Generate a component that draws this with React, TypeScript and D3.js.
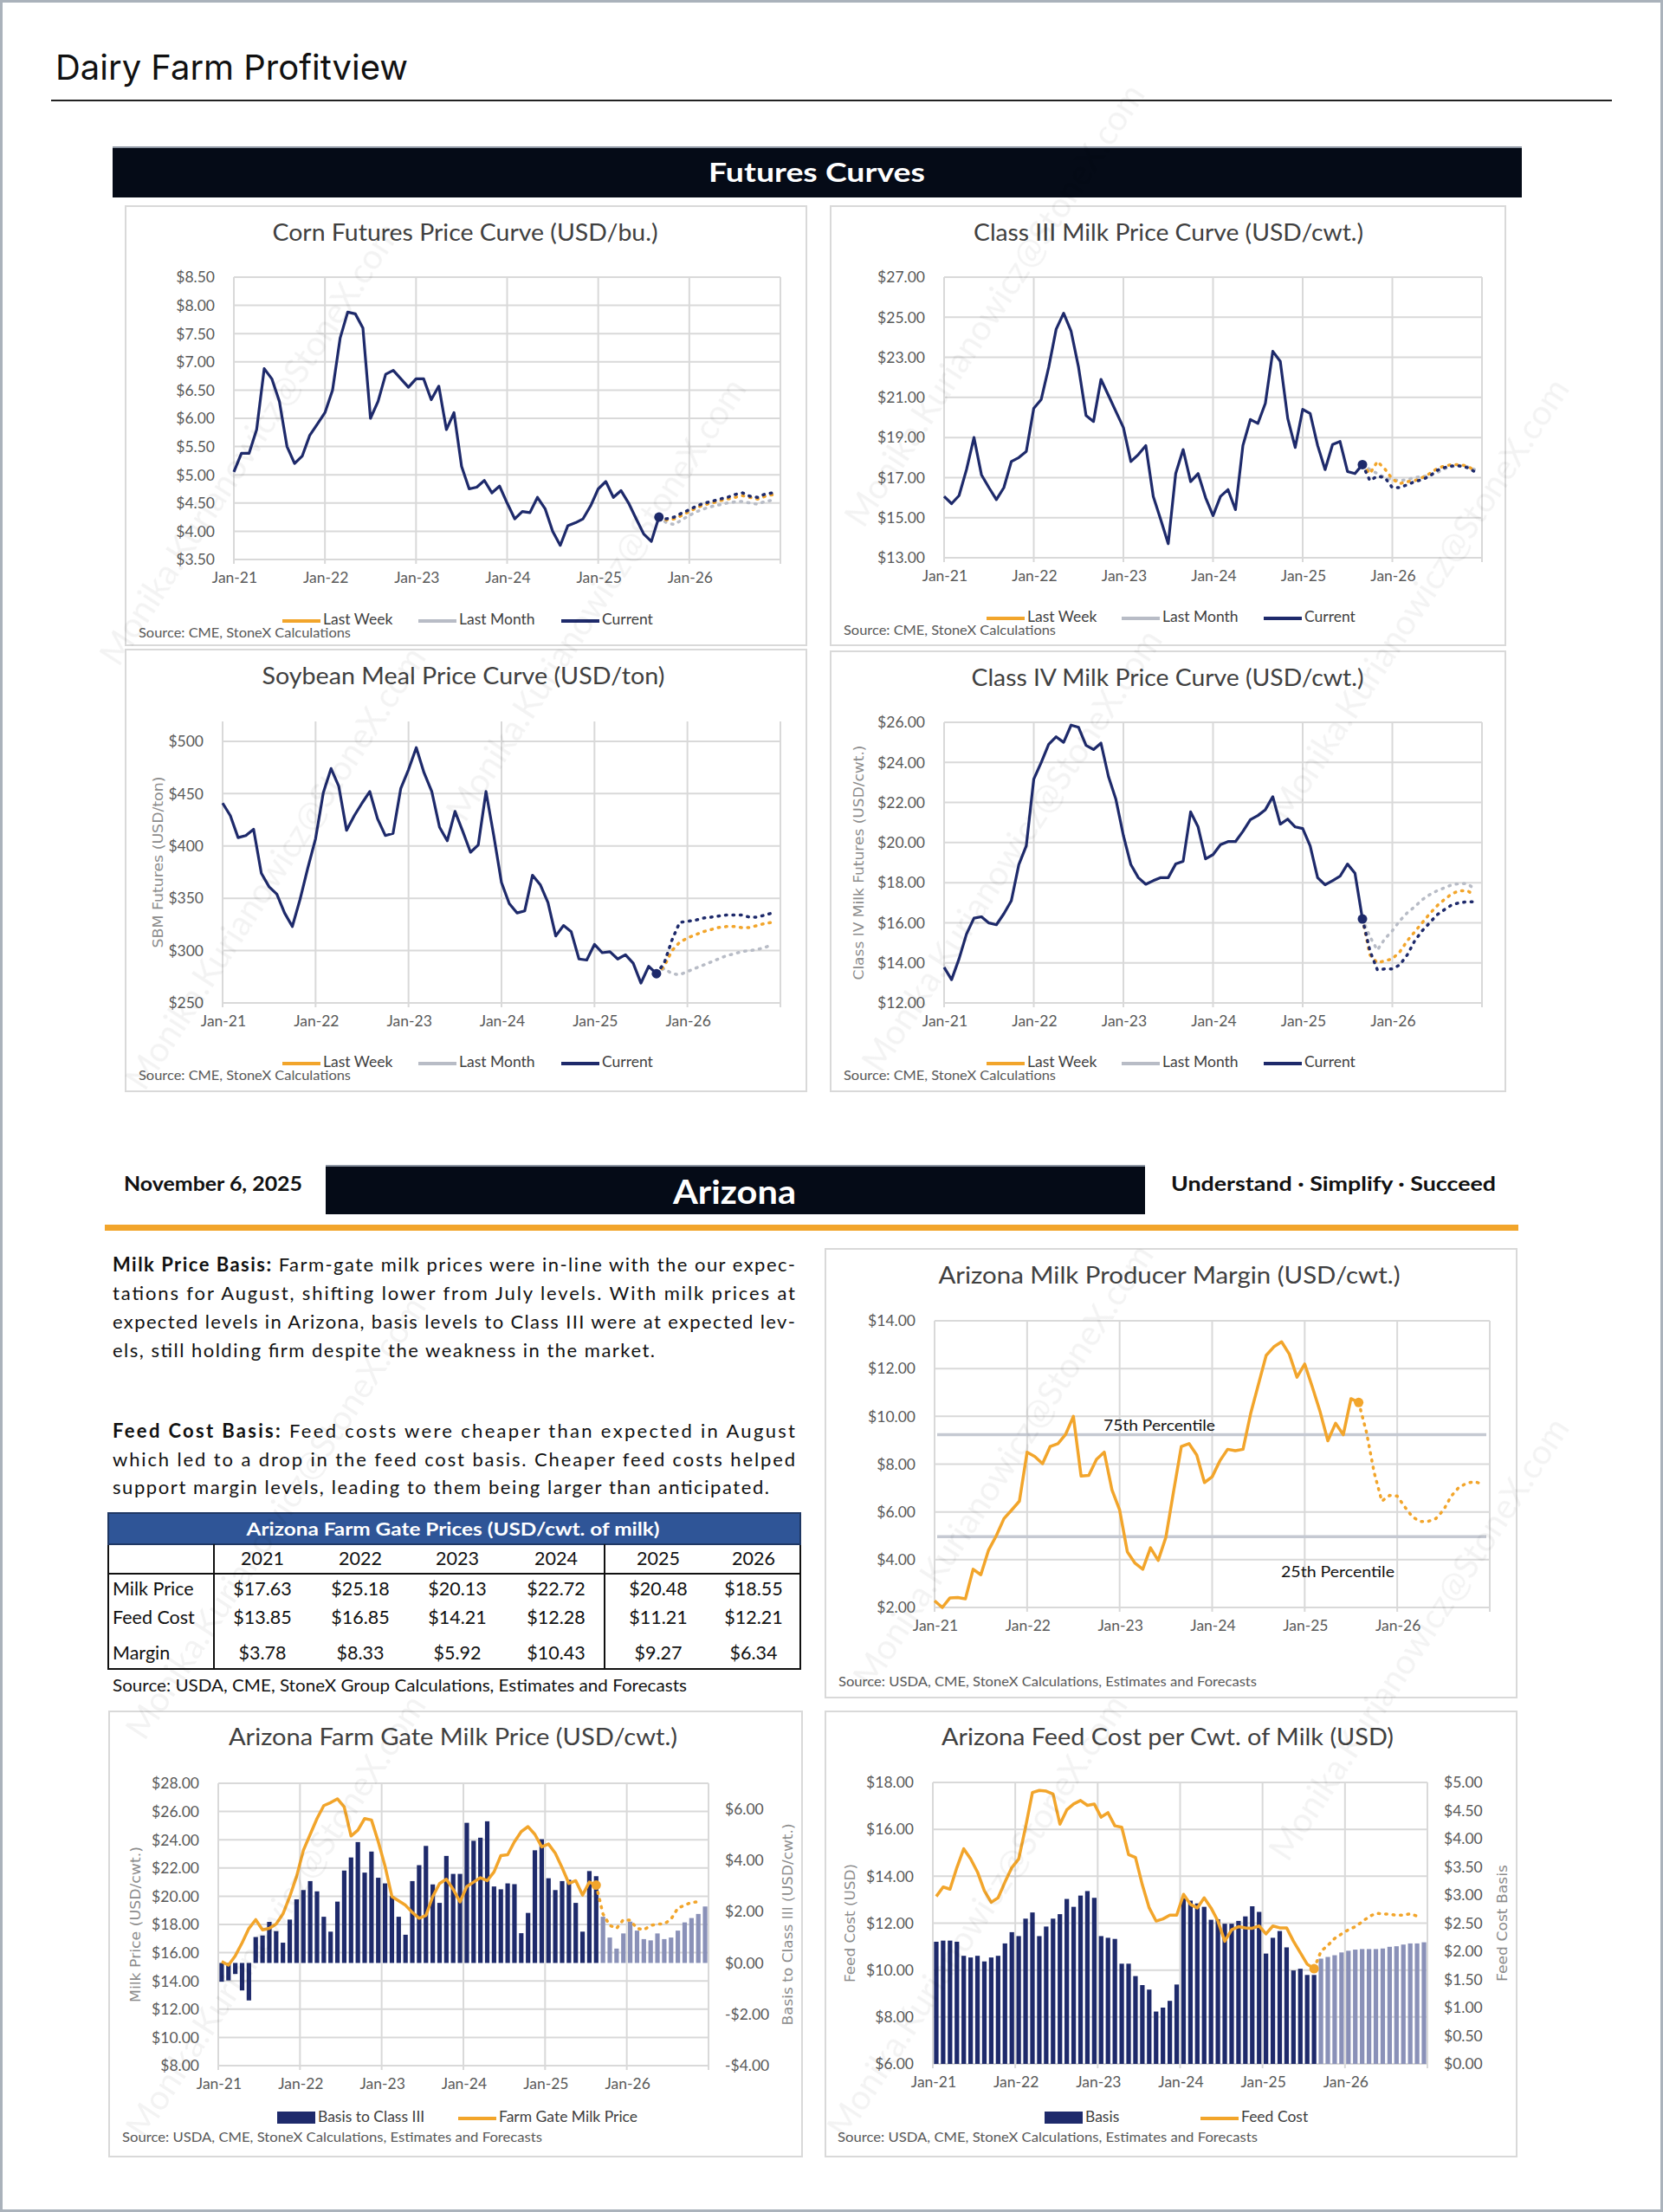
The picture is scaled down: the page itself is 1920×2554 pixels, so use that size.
import React from 'react';
import * as d3 from 'd3';

const FONT = "Lato, 'Open Sans', sans-serif";
const VERD = "'DejaVu Sans', Verdana, sans-serif";

const NAVY = '#1e2a6b';
const ORANGE = '#f2a52b';
const GRAY = '#b8bcc6';
const GRID = '#d9d9d9';
const TICK = '#595959';
const BAR_FWD = '#8a91b8';

const yearTicks = ['Jan-21', 'Jan-22', 'Jan-23', 'Jan-24', 'Jan-25', 'Jan-26'];
const legendNames = ['Last Week', 'Last Month', 'Current'];

// corn (USD/bu.), monthly from Jan-21
const cornCurrent = [5.05, 5.38, 5.38, 5.8, 6.88, 6.7, 6.3, 5.5, 5.2, 5.33, 5.7, 5.9, 6.1, 6.5, 7.42, 7.88, 7.85, 7.6, 6.0, 6.3, 6.78, 6.85, 6.7, 6.55, 6.7, 6.7, 6.33, 6.57, 5.8, 6.1, 5.15, 4.75, 4.78, 4.9, 4.68, 4.8, 4.5, 4.22, 4.35, 4.33, 4.6, 4.4, 4.0, 3.75, 4.1, 4.15, 4.22, 4.45, 4.75, 4.88, 4.6, 4.72, 4.5, 4.22, 3.95, 3.82, 4.25];
const cornCurrentFwd = [4.22, 4.25, 4.32, 4.38, 4.45, 4.5, 4.53, 4.57, 4.6, 4.65, 4.68, 4.62, 4.6, 4.66, 4.68];
const cornLastWeek = [4.2, 4.22, 4.28, 4.35, 4.42, 4.47, 4.5, 4.54, 4.57, 4.6, 4.63, 4.6, 4.57, 4.62, 4.65];
const cornLastMonth = [4.15, 4.12, 4.2, 4.28, 4.35, 4.4, 4.44, 4.47, 4.5, 4.52, 4.53, 4.5, 4.48, 4.53, 4.55];

// class III milk (USD/cwt.)
const class3Current = [16.06, 15.7, 16.1, 17.4, 19.0, 17.14, 16.5, 15.9, 16.5, 17.8, 18.0, 18.3, 20.45, 20.9, 22.5, 24.4, 25.2, 24.3, 22.5, 20.1, 19.8, 21.9, 21.1, 20.3, 19.5, 17.8, 18.15, 18.6, 16.06, 14.9, 13.7, 17.2, 18.4, 16.8, 17.2, 16.0, 15.1, 16.06, 16.4, 15.4, 18.6, 19.9, 19.7, 20.7, 23.3, 22.8, 19.95, 18.5, 20.4, 20.2, 18.6, 17.4, 18.65, 18.8, 17.3, 17.2, 17.65];
const class3CurrentFwd = [16.85, 17.07, 17.0, 16.5, 16.5, 16.64, 16.8, 16.9, 17.07, 17.36, 17.5, 17.58, 17.58, 17.5, 17.3];
const class3LastWeek = [17.2, 17.8, 17.43, 16.93, 16.7, 16.8, 16.85, 17.0, 17.2, 17.45, 17.58, 17.65, 17.65, 17.58, 17.36];
const class3LastMonth = [17.4, 17.2, 17.0, 16.9, 16.85, 16.9, 17.0, 17.05, 17.1, 17.25, 17.45, 17.55, 17.6, 17.55, 17.4];

// soybean meal (USD/ton)
const sbmCurrent = [441, 429, 408, 410, 416, 374, 361, 354, 336, 323, 349, 379, 407, 451, 474, 457, 415, 429, 441, 452, 426, 410, 412, 455, 473, 494, 470, 452, 418, 405, 433, 414, 394, 401, 452, 410, 365, 345, 336, 338, 372, 363, 346, 314, 324, 318, 292, 291, 306, 298, 299, 292, 296, 288, 269, 285, 278];
const sbmCurrentFwd = [288, 310, 327, 328, 329, 331, 332, 333, 334, 334, 334, 332, 332, 334, 336];
const sbmLastWeek = [285, 300, 308, 312, 315, 318, 320, 322, 323, 323, 322, 322, 324, 326, 327];
const sbmLastMonth = [283, 278, 277, 280, 283, 286, 289, 292, 295, 297, 299, 300, 301, 303, 306];

// class IV milk (USD/cwt.)
const class4Current = [13.78, 13.16, 14.2, 15.44, 16.23, 16.3, 15.99, 15.9, 16.45, 17.1, 18.9, 19.84, 23.16, 24.0, 24.9, 25.28, 25.0, 25.86, 25.75, 24.85, 24.64, 24.96, 23.3, 22.15, 20.35, 18.9, 18.25, 17.92, 18.1, 18.25, 18.25, 18.93, 19.07, 21.53, 20.78, 19.19, 19.4, 19.9, 20.05, 20.05, 20.56, 21.14, 21.35, 21.64, 22.29, 20.92, 21.17, 20.78, 20.7, 19.84, 18.25, 17.89, 18.1, 18.32, 18.93, 18.47, 16.19];
const class4CurrentFwd = [14.6, 13.65, 13.7, 13.7, 13.9, 14.4, 15.1, 15.6, 16.0, 16.4, 16.66, 16.9, 17.0, 17.05, 17.05];
const class4LastWeek = [14.4, 14.0, 14.1, 14.2, 14.55, 15.1, 15.55, 16.0, 16.45, 16.85, 17.17, 17.45, 17.6, 17.6, 17.4];
const class4LastMonth = [15.3, 14.64, 15.2, 15.6, 16.1, 16.5, 16.8, 17.15, 17.4, 17.6, 17.75, 17.9, 17.95, 17.95, 17.7];

// Arizona producer margin (USD/cwt.)
const marginHist = [2.28, 2.0, 2.4, 2.42, 2.36, 3.6, 3.37, 4.4, 5.0, 5.72, 6.08, 6.45, 8.5, 8.32, 8.02, 8.74, 8.86, 9.25, 10.0, 7.5, 7.53, 8.2, 8.5, 6.93, 6.08, 4.33, 3.85, 3.6, 4.5, 3.97, 4.94, 6.87, 8.74, 8.86, 8.38, 7.23, 7.47, 8.14, 8.62, 8.56, 8.62, 10.13, 11.34, 12.55, 12.91, 13.12, 12.61, 11.64, 12.19, 11.22, 10.19, 8.98, 9.71, 9.23, 10.74, 10.58];
const marginFwd = [9.35, 7.66, 6.45, 6.69, 6.66, 6.2, 5.78, 5.6, 5.6, 5.72, 6.08, 6.66, 7.03, 7.2, 7.27, 7.17];
const percentile75 = 9.23;
const percentile25 = 4.96;

// Arizona farm gate milk price and basis to class III
const milkPriceHist = [15.37, 15.12, 15.78, 16.7, 17.72, 18.34, 17.62, 17.72, 18.03, 18.75, 19.98, 21.4, 23.25, 24.38, 25.5, 26.42, 26.63, 26.9, 26.32, 24.27, 24.68, 25.5, 25.4, 23.86, 22.12, 19.98, 19.67, 19.36, 18.85, 18.44, 18.64, 19.98, 20.9, 21.2, 20.49, 19.6, 20.69, 21.0, 21.31, 21.1, 21.72, 22.88, 22.94, 23.86, 24.58, 24.93, 24.38, 23.5, 23.7, 23.05, 22.02, 20.9, 21.1, 20.08, 21.0, 20.79];
const milkPriceFwd = [18.75, 17.93, 17.72, 18.34, 18.3, 17.72, 17.62, 17.93, 18.03, 18.03, 18.38, 19.16, 19.36, 19.57, 19.6];
const milkBasisHist = [-0.73, -0.68, -0.43, -1.07, -1.46, 1.01, 1.07, 1.6, 1.24, 0.79, 1.69, 2.48, 2.84, 3.19, 2.79, 1.8, 1.22, 2.39, 3.6, 4.11, 4.71, 3.52, 4.34, 3.32, 3.1, 2.61, 1.8, 1.1, 3.19, 3.81, 4.56, 3.06, 2.34, 4.17, 3.47, 3.47, 5.46, 4.76, 4.88, 5.52, 2.98, 2.87, 3.1, 3.07, 1.16, 1.95, 4.39, 4.82, 3.3, 2.84, 3.19, 3.24, 2.34, 1.22, 3.58, 3.38];
const milkBasisFwd = [1.8, 0.99, 0.56, 1.15, 1.61, 1.26, 0.93, 0.88, 1.15, 0.93, 0.99, 1.26, 1.58, 1.75, 1.91, 2.2];

// Arizona feed cost per cwt and feed cost basis
const feedCostHist = [13.14, 13.54, 13.45, 14.37, 15.17, 14.74, 14.18, 13.38, 12.89, 13.08, 13.75, 14.37, 14.74, 16.09, 17.57, 17.66, 17.63, 17.51, 16.22, 16.83, 17.08, 17.23, 17.02, 17.08, 16.52, 16.71, 16.15, 16.09, 14.92, 14.8, 13.63, 12.65, 12.09, 12.18, 12.34, 12.34, 13.23, 12.8, 12.65, 13.08, 12.65, 12.09, 11.23, 11.72, 11.85, 11.8, 11.78, 11.88, 11.54, 11.88, 11.8, 11.8, 11.23, 10.74, 10.25, 10.06];
const feedCostFwd = [10.8, 11.05, 11.35, 11.54, 11.72, 11.85, 12.06, 12.28, 12.42, 12.4, 12.38, 12.34, 12.34, 12.4, 12.3];
const feedBasisHist = [2.17, 2.19, 2.19, 2.17, 1.92, 1.89, 1.92, 1.82, 1.89, 1.92, 2.14, 2.34, 2.27, 2.58, 2.69, 2.27, 2.44, 2.58, 2.66, 2.93, 2.79, 2.99, 3.07, 2.95, 2.27, 2.24, 2.22, 1.78, 1.78, 1.56, 1.4, 1.32, 0.93, 1.0, 1.12, 1.41, 2.94, 2.9, 2.85, 2.79, 2.56, 2.57, 2.49, 2.49, 2.54, 2.62, 2.8, 2.7, 1.96, 2.24, 2.36, 2.07, 1.66, 1.69, 1.58, 1.58];
const feedBasisFwd = [1.87, 1.9, 1.93, 1.98, 2.01, 2.03, 2.04, 2.04, 2.04, 2.05, 2.08, 2.09, 2.12, 2.14, 2.14, 2.16];

// table
const tableYears = ['2021', '2022', '2023', '2024', '2025', '2026'];
const tableRowLabels = ['Milk Price', 'Feed Cost', 'Margin'];
const milkPriceRow = ['$17.63', '$25.18', '$20.13', '$22.72', '$20.48', '$18.55'];
const feedCostRow = ['$13.85', '$16.85', '$14.21', '$12.28', '$11.21', '$12.21'];
const marginRow = ['$3.78', '$8.33', '$5.92', '$10.43', '$9.27', '$6.34'];

const fmt2 = (v: number) => (v < 0 ? '-$' : '$') + Math.abs(v).toFixed(2);
const fmt0 = (v: number) => '$' + v.toFixed(0);

type Box = { x: number; y: number; w: number; h: number };
type Plot = { l: number; r: number; t: number; b: number };

const Panel = ({ box }: { box: Box }) => (
  <rect x={box.x} y={box.y} width={box.w} height={box.h} fill="#fff" stroke={GRID} strokeWidth={2} />
);

const Title = ({ x, y, len, text }: { x: number; y: number; len: number; text: string }) => (
  <text x={x} y={y} textAnchor="middle" fontFamily={FONT} fontSize={26} fill="#404040" textLength={len} lengthAdjust="spacingAndGlyphs">
    {text}
  </text>
);

const Source = ({ x, y, len, text }: { x: number; y: number; len: number; text: string }) => (
  <text x={x} y={y} fontFamily={FONT} fontSize={15} fill={TICK} textLength={len} lengthAdjust="spacingAndGlyphs">
    {text}
  </text>
);

const AxisTitle = ({ x, cy, len, text }: { x: number; cy: number; len: number; text: string }) => (
  <text transform={`translate(${x},${cy}) rotate(-90)`} textAnchor="middle" fontFamily={VERD} fontSize={16} fill="#8c8c8c" textLength={len} lengthAdjust="spacingAndGlyphs">
    {text}
  </text>
);

const YearAxis = ({ plot }: { plot: Plot }) => {
  const xm = d3.scaleLinear().domain([0, 72]).range([plot.l, plot.r]);
  return (
    <g>
      {d3.range(0, 73, 12).map(m => (
        <line key={m} x1={xm(m)} x2={xm(m)} y1={plot.t} y2={plot.b + 5} stroke={GRID} strokeWidth={2} />
      ))}
      {yearTicks.map((lbl, i) => (
        <text key={lbl} x={xm(i * 12) + 1} y={plot.b + 27} textAnchor="middle" fontFamily={FONT} fontSize={17.5} fill={TICK}>
          {lbl}
        </text>
      ))}
    </g>
  );
};

type FuturesProps = {
  title: string;
  titleX: number;
  titleY: number;
  titleLen: number;
  box: Box;
  plot: Plot;
  yDomain: [number, number];
  yTicks: number[];
  fmt: (v: number) => string;
  current: number[];
  currentFwd: number[];
  lastWeek: number[];
  lastMonth: number[];
  yTitle?: string;
  yTitleX?: number;
  yTitleLen?: number;
  legendY: number;
  legendX: number[];
  sourceX: number;
  sourceY: number;
};

function FuturesChart(p: FuturesProps) {
  const { l, r, t, b } = p.plot;
  const x = d3.scaleLinear().domain([0, 72]).range([l, r]);
  const y = d3.scaleLinear().domain(p.yDomain).range([b, t]);
  const n = p.current.length;
  const last = p.current[n - 1];
  const hist = d3.line<number>().x((_, i) => x(i)).y(d => y(d));
  const fwd = d3.line<number>().x((_, i) => x(i + n - 1)).y(d => y(d));
  const dotted = { fill: 'none', strokeWidth: 3.5, strokeLinecap: 'round' as const, strokeDasharray: '1.5 7' };
  const legendColors = [ORANGE, GRAY, NAVY];
  return (
    <g>
      <Panel box={p.box} />
      <Title x={p.titleX} y={p.titleY} len={p.titleLen} text={p.title} />
      {p.yTicks.map(v => (
        <line key={v} x1={l} x2={r} y1={y(v)} y2={y(v)} stroke={GRID} strokeWidth={2} />
      ))}
      <YearAxis plot={p.plot} />
      {p.yTicks.map(v => (
        <text key={v} x={l - 22} y={y(v)} dy="0.36em" textAnchor="end" fontFamily={FONT} fontSize={17.5} fill={TICK}>
          {p.fmt(v)}
        </text>
      ))}
      {p.yTitle && <AxisTitle x={p.yTitleX!} cy={(t + b) / 2} len={p.yTitleLen!} text={p.yTitle} />}
      <path d={fwd([last, ...p.lastMonth]) || ''} stroke={GRAY} {...dotted} />
      <path d={fwd([last, ...p.lastWeek]) || ''} stroke={ORANGE} {...dotted} />
      <path d={fwd([last, ...p.currentFwd]) || ''} stroke={NAVY} {...dotted} />
      <path d={hist(p.current) || ''} fill="none" stroke={NAVY} strokeWidth={3.2} strokeLinejoin="round" />
      <circle cx={x(n - 1)} cy={y(last)} r={5.5} fill={NAVY} />
      {legendNames.map((name, i) => (
        <g key={name}>
          <line x1={p.legendX[i]} x2={p.legendX[i] + 44} y1={p.legendY - 4} y2={p.legendY - 4} stroke={legendColors[i]} strokeWidth={4} />
          <text x={p.legendX[i] + 47} y={p.legendY} fontFamily={FONT} fontSize={17.5} fill="#404040">
            {name}
          </text>
        </g>
      ))}
      <Source x={p.sourceX} y={p.sourceY} len={245} text="Source: CME, StoneX Calculations" />
    </g>
  );
}

function MarginChart() {
  const box = { x: 953, y: 1442, w: 798, h: 518 };
  const plot = { l: 1079, r: 1720, t: 1525, b: 1856 };
  const x = d3.scaleLinear().domain([0, 72]).range([plot.l, plot.r]);
  const y = d3.scaleLinear().domain([2, 14]).range([plot.b, plot.t]);
  const ticks = d3.range(2, 14.01, 2);
  const n = marginHist.length;
  const last = marginHist[n - 1];
  const hist = d3.line<number>().x((_, i) => x(i)).y(d => y(d));
  const fwd = d3.line<number>().x((_, i) => x(i + n - 1)).y(d => y(d));
  return (
    <g>
      <Panel box={box} />
      <Title x={1350} y={1482} len={533} text="Arizona Milk Producer Margin (USD/cwt.)" />
      {ticks.map(v => (
        <line key={v} x1={plot.l} x2={plot.r} y1={y(v)} y2={y(v)} stroke={GRID} strokeWidth={2} />
      ))}
      <YearAxis plot={plot} />
      {ticks.map(v => (
        <text key={v} x={plot.l - 22} y={y(v)} dy="0.36em" textAnchor="end" fontFamily={FONT} fontSize={17.5} fill={TICK}>
          {fmt2(v)}
        </text>
      ))}
      {[percentile75, percentile25].map(v => (
        <line key={v} x1={plot.l + 3} x2={plot.r - 4} y1={y(v)} y2={y(v)} stroke="#c5c9d2" strokeWidth={3.5} />
      ))}
      <text x={1274} y={1652} fontFamily={FONT} fontSize={17} fill="#111" textLength={129} lengthAdjust="spacingAndGlyphs">75th Percentile</text>
      <text x={1479} y={1821} fontFamily={FONT} fontSize={17} fill="#111" textLength={131} lengthAdjust="spacingAndGlyphs">25th Percentile</text>
      <path d={fwd([last, ...marginFwd]) || ''} fill="none" stroke={ORANGE} strokeWidth={3.5} strokeLinecap="round" strokeDasharray="1.5 7" />
      <path d={hist(marginHist) || ''} fill="none" stroke={ORANGE} strokeWidth={3.5} strokeLinejoin="round" />
      <circle cx={x(n - 1)} cy={y(last)} r={5.5} fill={ORANGE} />
      <Source x={968} y={1947} len={483} text="Source: USDA, CME, StoneX Calculations, Estimates and Forecasts" />
    </g>
  );
}

type ComboProps = {
  title: string;
  titleX: number;
  titleLen: number;
  box: Box;
  plot: Plot;
  yL: [number, number];
  yLTicks: number[];
  yR: [number, number];
  yRTicks: number[];
  barsHist: number[];
  barsFwd: number[];
  lineHist: number[];
  lineFwd: number[];
  yLTitle: string;
  yLTitleX: number;
  yLTitleLen: number;
  yRTitle: string;
  yRTitleX: number;
  yRTitleLen: number;
  barLabel: string;
  lineLabel: string;
  boxX: number;
  lineX: number;
  sourceX: number;
};

function ComboChart(p: ComboProps) {
  const { l, r, t, b } = p.plot;
  const bars = [...p.barsHist, ...p.barsFwd];
  const band = d3.scaleBand<number>().domain(d3.range(bars.length)).range([l, r]).paddingInner(0.34).paddingOuter(0.17);
  const cx = (i: number) => (band(i) || 0) + band.bandwidth() / 2;
  const yl = d3.scaleLinear().domain(p.yL).range([b, t]);
  const yr = d3.scaleLinear().domain(p.yR).range([b, t]);
  const n = p.lineHist.length;
  const last = p.lineHist[n - 1];
  const hist = d3.line<number>().x((_, i) => cx(i)).y(d => yl(d));
  const fwd = d3.line<number>().x((_, i) => cx(i + n - 1)).y(d => yl(d));
  const legendY = 2450;
  return (
    <g>
      <Panel box={p.box} />
      <Title x={p.titleX} y={2015} len={p.titleLen} text={p.title} />
      {p.yLTicks.map(v => (
        <line key={v} x1={l} x2={r} y1={yl(v)} y2={yl(v)} stroke={GRID} strokeWidth={2} />
      ))}
      <YearAxis plot={p.plot} />
      {p.yLTicks.map(v => (
        <text key={v} x={l - 22} y={yl(v)} dy="0.36em" textAnchor="end" fontFamily={FONT} fontSize={17.5} fill={TICK}>
          {fmt2(v)}
        </text>
      ))}
      {p.yRTicks.map(v => (
        <text key={v} x={r + 19} y={yr(v)} dy="0.36em" textAnchor="start" fontFamily={FONT} fontSize={17.5} fill={TICK}>
          {fmt2(v)}
        </text>
      ))}
      <AxisTitle x={p.yLTitleX} cy={(t + b) / 2} len={p.yLTitleLen} text={p.yLTitle} />
      <AxisTitle x={p.yRTitleX} cy={(t + b) / 2} len={p.yRTitleLen} text={p.yRTitle} />
      {bars.map((v, i) => (
        <rect
          key={i}
          x={band(i)}
          width={band.bandwidth()}
          y={Math.min(yr(0), yr(v))}
          height={Math.abs(yr(v) - yr(0))}
          fill={i < p.barsHist.length ? NAVY : BAR_FWD}
        />
      ))}
      <path d={fwd([last, ...p.lineFwd]) || ''} fill="none" stroke={ORANGE} strokeWidth={3.5} strokeLinecap="round" strokeDasharray="1.5 7" />
      <path d={hist(p.lineHist) || ''} fill="none" stroke={ORANGE} strokeWidth={3.5} strokeLinejoin="round" />
      <circle cx={cx(n - 1)} cy={yl(last)} r={5.5} fill={ORANGE} />
      <rect x={p.boxX} y={legendY - 12} width={44} height={14} fill={NAVY} />
      <text x={p.boxX + 47} y={legendY} fontFamily={FONT} fontSize={17.5} fill="#404040">{p.barLabel}</text>
      <line x1={p.lineX} x2={p.lineX + 44} y1={legendY - 4} y2={legendY - 4} stroke={ORANGE} strokeWidth={4} />
      <text x={p.lineX + 47} y={legendY} fontFamily={FONT} fontSize={17.5} fill="#404040">{p.lineLabel}</text>
      <Source x={p.sourceX} y={2473} len={485} text="Source: USDA, CME, StoneX Calculations, Estimates and Forecasts" />
    </g>
  );
}

function FarmTable() {
  const cols = [303, 416, 528, 642, 760, 870];
  const rows = [milkPriceRow, feedCostRow, marginRow];
  const rowY = [1842, 1875, 1916];
  return (
    <g fontFamily={FONT}>
      <rect x={125} y={1747} width={799} height={180} fill="#fff" stroke="#111" strokeWidth={2} />
      <rect x={125} y={1747} width={799} height={36} fill="#2f5597" stroke="#1f3864" strokeWidth={2} />
      <text x={523} y={1773} textAnchor="middle" fontWeight={700} fontSize={20} fill="#fff" textLength={477} lengthAdjust="spacingAndGlyphs">
        Arizona Farm Gate Prices (USD/cwt. of milk)
      </text>
      <line x1={125} x2={924} y1={1817} y2={1817} stroke="#111" strokeWidth={2} />
      <line x1={247} x2={247} y1={1783} y2={1927} stroke="#111" strokeWidth={2} />
      <line x1={698} x2={698} y1={1783} y2={1927} stroke="#111" strokeWidth={2} />
      {tableYears.map((yr, i) => (
        <text key={yr} x={cols[i]} y={1807} textAnchor="middle" fontSize={21.5} fill="#111">{yr}</text>
      ))}
      {tableRowLabels.map((lbl, j) => (
        <text key={lbl} x={130} y={rowY[j]} fontSize={21.5} fill="#111">{lbl}</text>
      ))}
      {rows.map((row, j) =>
        row.map((v, i) => (
          <text key={`${j}-${i}`} x={cols[i]} y={rowY[j]} textAnchor="middle" fontSize={21.5} fill="#111">{v}</text>
        ))
      )}
      <text x={130} y={1953} fontSize={19} fill="#111" textLength={663} lengthAdjust="spacingAndGlyphs">
        Source: USDA, CME, StoneX Group Calculations, Estimates and Forecasts
      </text>
    </g>
  );
}

const para1 = [
  ['Milk Price Basis:', ' Farm-gate milk prices were in-line with the our expec-'],
  ['', 'tations for August, shifting lower from July levels. With milk prices at'],
  ['', 'expected levels in Arizona, basis levels to Class III were at expected lev-'],
  ['', 'els, still holding firm despite the weakness in the market.'],
];
const para2 = [
  ['Feed Cost Basis:', ' Feed costs were cheaper than expected in August'],
  ['', 'which led to a drop in the feed cost basis. Cheaper feed costs helped'],
  ['', 'support margin levels, leading to them being larger than anticipated.'],
];

function Commentary() {
  const lines = [
    ...para1.map((l, i) => ({ parts: l, y: 1468 + i * 33, len: i === 3 ? 626 : 788 })),
    ...para2.map((l, i) => ({ parts: l, y: 1660 + i * 32.5, len: i === 2 ? 758 : 788 })),
  ];
  return (
    <g fontFamily={FONT} fontSize={22} fill="#111">
      {lines.map((ln, i) => (
        <text key={i} x={130} y={ln.y} textLength={ln.len} lengthAdjust="spacing">
          {ln.parts[0] && <tspan fontWeight={700}>{ln.parts[0]}</tspan>}
          {ln.parts[1]}
        </text>
      ))}
    </g>
  );
}

const watermarkSpots = [
  [300, 520], [330, 1010], [1160, 360], [1180, 990], [700, 700],
  [330, 1760], [1170, 1700], [330, 2220], [1140, 2220], [1650, 700], [1650, 1900],
];

export default function App() {
  const tick = (a: number, b: number, s: number) => d3.range(a, b + s / 2, s);
  return (
    <svg width={1920} height={2554} style={{ position: 'absolute', left: 0, top: 0, background: '#fff' }}>
      <rect x={1.5} y={1.5} width={1917} height={2551} fill="#fff" stroke="#aab2bb" strokeWidth={3} />
      <text x={64} y={92} fontFamily="Inter, 'Liberation Sans', sans-serif" fontSize={40} fill="#111" textLength={407} lengthAdjust="spacingAndGlyphs">
        Dairy Farm Profitview
      </text>
      <line x1={59} x2={1861} y1={116} y2={116} stroke="#222" strokeWidth={2} />

      <rect x={130} y={169} width={1627} height={59} fill="#050b17" />
      <line x1={130} x2={1757} y1={170} y2={170} stroke="#8d96a3" strokeWidth={2} />
      <text x={943} y={210} textAnchor="middle" fontFamily={FONT} fontWeight={700} fontSize={30} fill="#fff" textLength={250} lengthAdjust="spacingAndGlyphs">
        Futures Curves
      </text>

      <FuturesChart
        title="Corn Futures Price Curve (USD/bu.)" titleX={537} titleY={278} titleLen={445}
        box={{ x: 145, y: 238, w: 786, h: 507 }} plot={{ l: 270, r: 901, t: 320, b: 646 }}
        yDomain={[3.5, 8.5]} yTicks={tick(3.5, 8.5, 0.5)} fmt={fmt2}
        current={cornCurrent} currentFwd={cornCurrentFwd} lastWeek={cornLastWeek} lastMonth={cornLastMonth}
        legendY={721} legendX={[326, 483, 648]} sourceX={160} sourceY={736}
      />
      <FuturesChart
        title="Class III Milk Price Curve (USD/cwt.)" titleX={1349} titleY={278} titleLen={450}
        box={{ x: 959, y: 238, w: 779, h: 507 }} plot={{ l: 1090, r: 1711, t: 320, b: 644 }}
        yDomain={[13, 27]} yTicks={tick(13, 27, 2)} fmt={fmt2}
        current={class3Current} currentFwd={class3CurrentFwd} lastWeek={class3LastWeek} lastMonth={class3LastMonth}
        legendY={718} legendX={[1139, 1295, 1459]} sourceX={974} sourceY={733}
      />
      <FuturesChart
        title="Soybean Meal Price Curve (USD/ton)" titleX={535} titleY={790} titleLen={465}
        box={{ x: 145, y: 750, w: 786, h: 510 }} plot={{ l: 257, r: 901, t: 833, b: 1158 }}
        yDomain={[250, 519]} yTicks={tick(250, 500, 50)} fmt={fmt0}
        current={sbmCurrent} currentFwd={sbmCurrentFwd} lastWeek={sbmLastWeek} lastMonth={sbmLastMonth}
        yTitle="SBM Futures (USD/ton)" yTitleX={188} yTitleLen={198}
        legendY={1232} legendX={[326, 483, 648]} sourceX={160} sourceY={1247}
      />
      <FuturesChart
        title="Class IV Milk Price Curve (USD/cwt.)" titleX={1348} titleY={792} titleLen={453}
        box={{ x: 959, y: 752, w: 779, h: 508 }} plot={{ l: 1090, r: 1711, t: 834, b: 1158 }}
        yDomain={[12, 26]} yTicks={tick(12, 26, 2)} fmt={fmt2}
        current={class4Current} currentFwd={class4CurrentFwd} lastWeek={class4LastWeek} lastMonth={class4LastMonth}
        yTitle="Class IV Milk Futures (USD/cwt.)" yTitleX={997} yTitleLen={271}
        legendY={1232} legendX={[1139, 1295, 1459]} sourceX={974} sourceY={1247}
      />

      <text x={143} y={1375} fontFamily={FONT} fontWeight={700} fontSize={22} fill="#111" textLength={206} lengthAdjust="spacingAndGlyphs">
        November 6, 2025
      </text>
      <rect x={376} y={1345} width={946} height={57} fill="#050b17" />
      <line x1={376} x2={1322} y1={1346} y2={1346} stroke="#8d96a3" strokeWidth={2} />
      <text x={848} y={1390} textAnchor="middle" fontFamily={FONT} fontWeight={700} fontSize={38} fill="#fff" textLength={142} lengthAdjust="spacingAndGlyphs">
        Arizona
      </text>
      <text x={1352} y={1375} fontFamily={FONT} fontWeight={700} fontSize={22} fill="#111" textLength={375} lengthAdjust="spacingAndGlyphs">
        Understand · Simplify · Succeed
      </text>
      <rect x={121} y={1414} width={1632} height={7} fill={ORANGE} />

      <Commentary />
      <FarmTable />
      <MarginChart />

      <ComboChart
        title="Arizona Farm Gate Milk Price (USD/cwt.)" titleX={523} titleLen={518}
        box={{ x: 126, y: 1976, w: 800, h: 514 }} plot={{ l: 252, r: 818, t: 2059, b: 2385 }}
        yL={[8, 28]} yLTicks={tick(8, 28, 2)} yR={[-4, 7]} yRTicks={tick(-4, 6, 2)}
        barsHist={milkBasisHist} barsFwd={milkBasisFwd} lineHist={milkPriceHist} lineFwd={milkPriceFwd}
        yLTitle="Milk Price (USD/cwt.)" yLTitleX={162} yLTitleLen={180}
        yRTitle="Basis to Class III (USD/cwt.)" yRTitleX={915} yRTitleLen={233}
        barLabel="Basis to Class III" lineLabel="Farm Gate Milk Price" boxX={320} lineX={529} sourceX={141}
      />
      <ComboChart
        title="Arizona Feed Cost per Cwt. of Milk (USD)" titleX={1348} titleLen={522}
        box={{ x: 953, y: 1976, w: 798, h: 514 }} plot={{ l: 1077, r: 1648, t: 2058, b: 2383 }}
        yL={[6, 18]} yLTicks={tick(6, 18, 2)} yR={[0, 5]} yRTicks={tick(0, 5, 0.5)}
        barsHist={feedBasisHist} barsFwd={feedBasisFwd} lineHist={feedCostHist} lineFwd={feedCostFwd}
        yLTitle="Feed Cost (USD)" yLTitleX={987} yLTitleLen={137}
        yRTitle="Feed Cost Basis" yRTitleX={1740} yRTitleLen={135}
        barLabel="Basis" lineLabel="Feed Cost" boxX={1206} lineX={1386} sourceX={967}
      />

      <g opacity={0.05} pointerEvents="none">
        {watermarkSpots.map(([wx, wy], i) => (
          <text key={i} transform={`translate(${wx},${wy}) rotate(-57)`} textAnchor="middle" fontFamily={FONT} fontSize={40} fill="#000">
            Monika.Kurianowicz@StoneX.com
          </text>
        ))}
      </g>
    </svg>
  );
}
